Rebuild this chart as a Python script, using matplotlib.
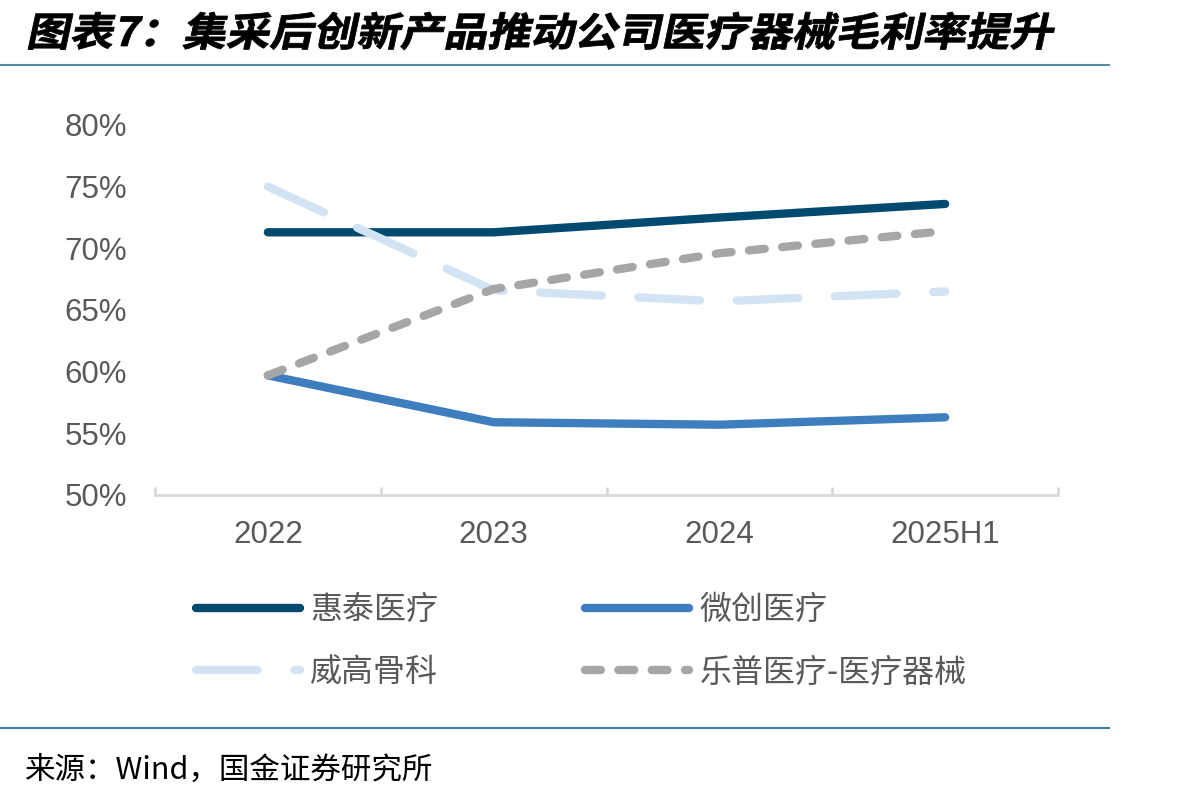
import numpy as np
import matplotlib
matplotlib.use("Agg")
import matplotlib.pyplot as plt
from matplotlib.textpath import TextPath
from matplotlib.patches import PathPatch
from matplotlib.font_manager import FontProperties
from matplotlib.transforms import Affine2D
from matplotlib.lines import Line2D

plt.rcParams['font.family'] = ['Noto Sans CJK SC', 'DejaVu Sans']

years = ['2022', '2023', '2024', '2025H1']
huitai = [71.3, 71.3, 72.5, 73.6]
weichuang = [59.7, 55.9, 55.7, 56.3]
weigao = [75.0, 66.6, 65.7, 66.5]
lepu = [59.7, 66.7, 69.6, 71.4]
names = ['惠泰医疗', '微创医疗', '威高骨科', '乐普医疗-医疗器械']
yticks = [50, 55, 60, 65, 70, 75, 80]

W, H = 1204, 797
fig = plt.figure(figsize=(W / 100, H / 100), dpi=100)
ax = fig.add_axes([155 / W, 1 - 495 / H, (1058 - 155) / W, (495 - 125) / H])

x = np.arange(len(years))
lw = 6
l1, = ax.plot(x, huitai, color='#00496F', lw=lw, solid_capstyle='round', solid_joinstyle='round')
l2, = ax.plot(x, weichuang, color='#3F7EBE', lw=lw, solid_capstyle='round', solid_joinstyle='round')
l3, = ax.plot(x, weigao, color='#D2E4F3', lw=lw, dashes=(7.4, 4.4), dash_capstyle='round')
l4, = ax.plot(x, lepu, color='#A6A6A6', lw=lw, dashes=(1.9, 2.1), dash_capstyle='round')

ax.set_xlim(-0.5, len(years) - 0.5)
ax.set_ylim(50, 80)
ax.set_yticks(yticks)
ax.set_yticklabels([f'{v}%' for v in yticks], fontfamily='Liberation Sans', fontsize=22.5, color='#595959')
ax.set_xticks(x)
ax.set_xticklabels(years, fontfamily='Liberation Sans', fontsize=22.5, color='#595959')
ax.tick_params(axis='y', length=0, pad=20)
ax.tick_params(axis='x', length=0, pad=18)
for s in ['top', 'right', 'left']:
    ax.spines[s].set_visible(False)
ax.spines['bottom'].set_color('#D9D9D9')
ax.spines['bottom'].set_linewidth(2)
# category boundary ticks
for b in np.arange(-0.5, len(years), 1.0):
    ax.plot([b, b], [50, 50.65], color='#D9D9D9', lw=2, clip_on=False, solid_capstyle='butt')

# legend filled column-wise, so reorder to get rows 惠泰/微创 and 威高/乐普
leg = ax.legend([l1, l3, l2, l4], [names[0], names[2], names[1], names[3]],
                loc='upper left', bbox_to_anchor=(0.014, -0.19), ncol=2, frameon=False,
                fontsize=23, handlelength=3.25, handletextpad=0.32, columnspacing=4.6,
                labelspacing=0.95)
for t in leg.get_texts():
    t.set_color('#595959')

# title with slanted bold glyphs
fp = FontProperties(family='Noto Sans CJK SC', weight='bold')
title = '图表7：集采后创新产品推动公司医疗器械毛利率提升'
tp = TextPath((0, 0), title, size=40, prop=fp)
ext = tp.get_extents()
sx = (1050 - 28) / ext.width
tr = Affine2D().translate(-ext.x0, -ext.y0).scale(sx, 38 / ext.height).skew_deg(12, 0).translate(28, H - 50)
fig.patches.append(PathPatch(tp, transform=tr + Affine2D().scale(1 / 100) + fig.dpi_scale_trans,
                             facecolor='black', edgecolor='black', lw=0.6))

fig.add_artist(Line2D([0, 1109 / W], [1 - 65 / H] * 2, color='#5A8AA8', lw=1.5))
fig.add_artist(Line2D([0, 1109 / W], [1 - 728 / H] * 2, color='#3F7A9A', lw=1.5))

fig.text(25 / W, 1 - 779 / H, '来源：Wind，国金证券研究所', fontsize=22, color='black', va='baseline')

fig.savefig('out.png', dpi=100)
